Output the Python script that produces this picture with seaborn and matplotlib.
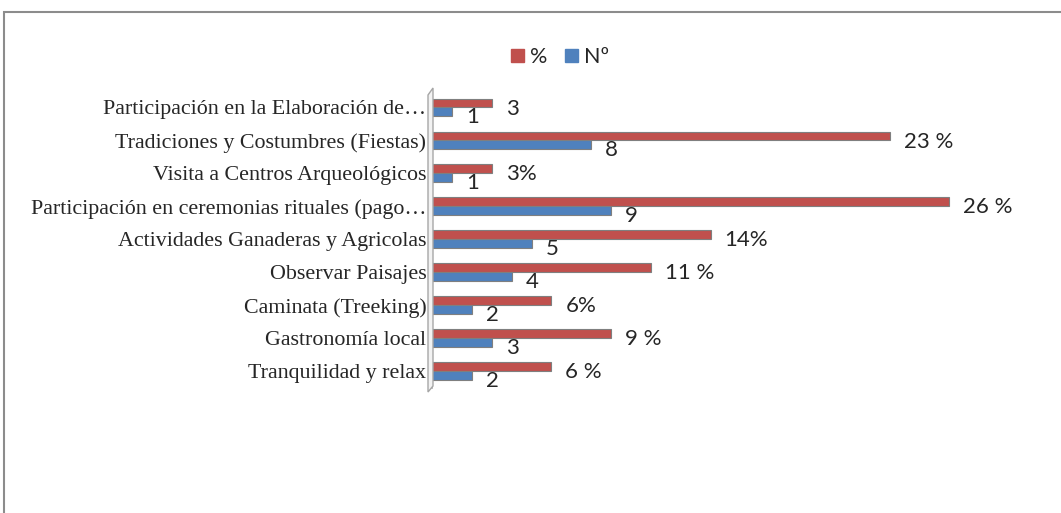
import pandas as pd
import matplotlib.pyplot as plt
import seaborn as sns
from matplotlib.patches import Rectangle, Polygon

sns.set_style("white")

# categories top to bottom, as in the reference
categorias = ['Participación en la Elaboración de…',
              'Tradiciones y Costumbres (Fiestas)',
              'Visita a Centros Arqueológicos',
              'Participación en ceremonias rituales (pago…',
              'Actividades Ganaderas y Agricolas',
              'Observar Paisajes',
              'Caminata (Treeking)',
              'Gastronomía local',
              'Tranquilidad y relax']
porcentaje = [3, 23, 3, 26, 14, 11, 6, 9, 6]
numero = [1, 8, 1, 9, 5, 4, 2, 3, 2]
etiq_pct = ['3', '23 %', '3%', '26 %', '14%', '11 %', '6%', '9 %', '6 %']
etiq_num = ['1', '8', '1', '9', '5', '4', '2', '3', '2']

df = pd.DataFrame({
    'Actividad': categorias * 2,
    'Valor': porcentaje + numero,
    'Serie': ['%'] * len(categorias) + ['Nº'] * len(categorias),
})

rojo = '#C0504D'
azul = '#4F81BD'

fig = plt.figure(figsize=(10.61, 5.13), dpi=100)
ax = fig.add_axes([432 / 1061, 1 - 387.5 / 513, 597 / 1061, 296.5 / 513])

sns.barplot(data=df, y='Actividad', x='Valor', hue='Serie',
            hue_order=['%', 'Nº'], palette=[rojo, azul], orient='h',
            width=0.54, ax=ax, legend=False, errorbar=None,
            linewidth=0.8, edgecolor='#7f7f7f', saturation=1)

ax.set_xlim(0, 30)
ax.set_xlabel('')
ax.set_ylabel('')
ax.set_xticks([])
ax.tick_params(axis='y', length=0, pad=4)
for lab in ax.get_yticklabels():
    lab.set_fontfamily('Liberation Serif')
    lab.set_fontsize(15.8)
for s in ['top', 'right', 'bottom']:
    ax.spines[s].set_visible(False)
ax.spines['left'].set_color('#a6a6a6')
ax.spines['left'].set_linewidth(1.2)

# thin 3D wall at the left of the plot area
pared = Polygon([[428 / 1061, 1 - 392 / 513], [428 / 1061, 1 - 95 / 513],
                 [433 / 1061, 1 - 88 / 513], [433 / 1061, 1 - 386 / 513]],
                closed=True, facecolor='#f2f2f2', edgecolor='#a6a6a6',
                linewidth=1.0, transform=fig.transFigure)
fig.add_artist(pared)

# value labels from the bar geometry
for cont, textos in zip(ax.containers, [etiq_pct, etiq_num]):
    for barra, t in zip(cont, textos):
        x = barra.get_x() + barra.get_width()
        y = barra.get_y() + barra.get_height() / 2
        ax.annotate(t, xy=(x, y), xytext=(10, -4), textcoords='offset points',
                    ha='left', va='center', fontsize=16, fontfamily='Lato',
                    annotation_clip=False)

# legend on top
handles = [Rectangle((0, 0), 1, 1, color=rojo), Rectangle((0, 0), 1, 1, color=azul)]
fig.legend(handles, ['%', 'Nº'], loc='center', bbox_to_anchor=(560 / 1061, 1 - 57 / 513),
           ncol=2, frameon=False, handlelength=0.6, handleheight=0.6,
           handletextpad=0.3, columnspacing=0.8, prop={'family': 'Lato', 'size': 15.5})

# chart frame
fig.add_artist(Rectangle((4 / 1061, -0.1), 1.2, 1.1 - 12 / 513, fill=False,
                         edgecolor='#8c8c8c', linewidth=1.5, transform=fig.transFigure))

fig.savefig('out.png', dpi=100)
